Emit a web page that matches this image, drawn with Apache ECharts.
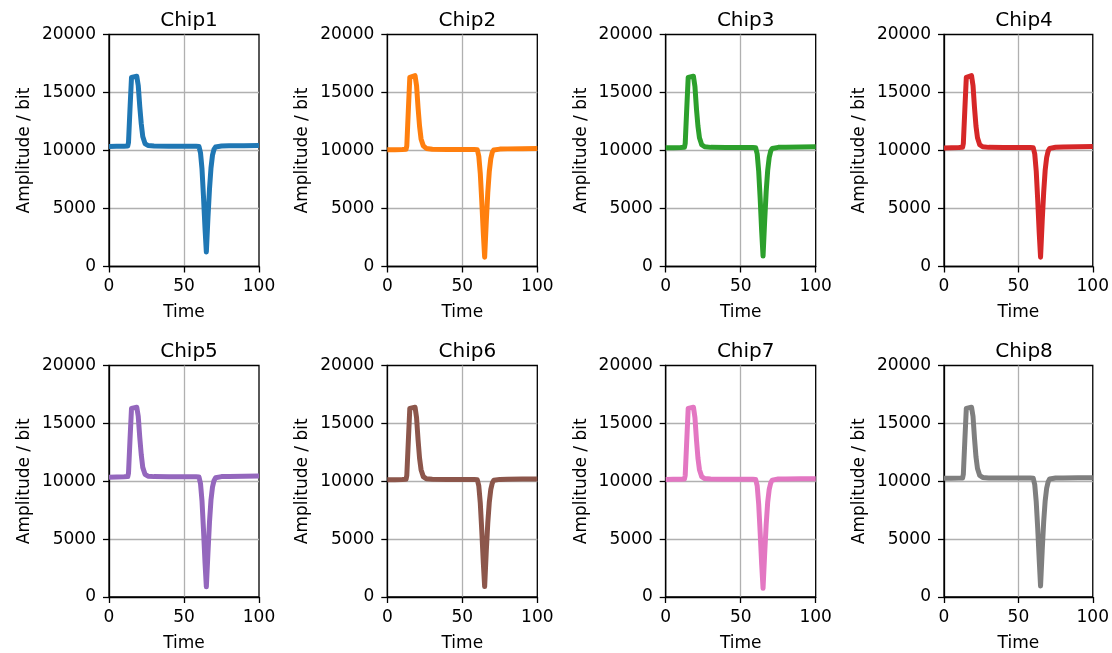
<!DOCTYPE html>
<html>
<head>
<meta charset="utf-8">
<script src="https://cdn.jsdelivr.net/npm/echarts@6/dist/echarts.min.js"></script>
<style>
  html, body { margin: 0; padding: 0; background: #fff; }
  #main { width: 1112px; height: 653px; }
</style>
</head>
<body>
<div id="main"></div>
<script>
// sample times shared by all chips
var times = [0, 5, 10, 12.5, 13, 14, 15, 15.5, 18.5, 19.5, 20.5, 21.5, 22.5, 24, 26, 30, 40, 50, 58, 60,
    61, 62, 63, 64, 64.9, 66, 67, 68, 69, 70, 71, 72, 75, 80, 90, 100];

var chipNames = ["Chip1", "Chip2", "Chip3", "Chip4", "Chip5", "Chip6", "Chip7", "Chip8"];
var colors = ["#1f77b4", "#ff7f0e", "#2ca02c", "#d62728", "#9467bd", "#8c564b", "#e377c2", "#7f7f7f"];

var chip1 = [10350, 10360, 10370, 10390, 10700, 13600, 16300, 16400, 16400, 15600, 13800, 12300, 11200, 10600, 10430, 10390, 10370, 10370, 10370, 10340,
    9800, 8400, 6000, 3300, 1250, 4300, 6700, 8500, 9600, 10100, 10300, 10350, 10380, 10400, 10420, 10440];
var chip2 = [10060, 10070, 10080, 10100, 10400, 13400, 16300, 16450, 16450, 15600, 13700, 12100, 11000, 10400, 10180, 10100, 10090, 10090, 10090, 10060,
    9500, 8000, 5600, 2900, 800, 3900, 6400, 8200, 9300, 9850, 10050, 10100, 10120, 10140, 10160, 10170];
var chip3 = [10230, 10240, 10250, 10280, 10600, 13500, 16300, 16400, 16400, 15500, 13600, 12100, 11100, 10500, 10320, 10270, 10260, 10260, 10260, 10230,
    9700, 8200, 5800, 3000, 900, 4000, 6500, 8300, 9400, 9950, 10180, 10240, 10270, 10290, 10310, 10320];
var chip4 = [10220, 10230, 10250, 10270, 10600, 13500, 16300, 16450, 16450, 15600, 13700, 12100, 11100, 10500, 10320, 10270, 10260, 10260, 10260, 10240,
    9700, 8200, 5700, 2900, 800, 3900, 6400, 8300, 9400, 9950, 10180, 10250, 10280, 10300, 10320, 10340];
var chip5 = [10350, 10360, 10380, 10400, 10700, 13600, 16300, 16400, 16400, 15600, 13800, 12300, 11200, 10600, 10440, 10400, 10390, 10390, 10390, 10360,
    9800, 8300, 5800, 3000, 880, 3900, 6500, 8400, 9500, 10050, 10300, 10370, 10400, 10420, 10440, 10460];
var chip6 = [10130, 10140, 10150, 10170, 10500, 13400, 16300, 16400, 16400, 15500, 13600, 12000, 11000, 10400, 10210, 10170, 10160, 10160, 10160, 10130,
    9600, 8100, 5700, 3000, 900, 4000, 6400, 8200, 9300, 9850, 10080, 10140, 10160, 10180, 10190, 10200];
var chip7 = [10160, 10170, 10180, 10200, 10500, 13400, 16300, 16400, 16400, 15500, 13600, 12000, 11000, 10400, 10230, 10190, 10180, 10180, 10180, 10150,
    9600, 8000, 5500, 2800, 750, 3800, 6300, 8200, 9300, 9850, 10100, 10170, 10190, 10200, 10210, 10220];
var chip8 = [10250, 10260, 10270, 10290, 10600, 13500, 16300, 16400, 16400, 15600, 13700, 12100, 11100, 10500, 10330, 10290, 10280, 10280, 10280, 10250,
    9700, 8200, 5900, 3200, 950, 4000, 6500, 8300, 9400, 9950, 10200, 10260, 10280, 10290, 10300, 10300];
var chipValues = [chip1, chip2, chip3, chip4, chip5, chip6, chip7, chip8];

var font = "DejaVu Sans";
var lefts = [109, 387.3, 665.7, 944];
var tops = [34.5, 365.5];
var plotW = 150, plotH = 232;

var grids = [], xAxes = [], yAxes = [], titles = [], series = [];

for (var i = 0; i < 8; i++) {
    var col = i % 4, row = Math.floor(i / 4);
    grids.push({
        left: lefts[col], top: tops[row], width: plotW, height: plotH,
        show: true, borderColor: "#000", borderWidth: 1.3, backgroundColor: "transparent"
    });
    titles.push({
        text: chipNames[i],
        left: lefts[col] + plotW / 2,
        top: tops[row] - 29,
        textAlign: "center",
        textStyle: { fontFamily: font, fontSize: 20, fontWeight: "normal", color: "#000" }
    });
    xAxes.push({
        gridIndex: i, type: "value", min: 0, max: 100, interval: 50,
        name: "Time", nameLocation: "middle", nameGap: 38,
        nameTextStyle: { fontFamily: font, fontSize: 17, color: "#000" },
        axisLine: { show: true, onZero: false, lineStyle: { color: "#000", width: 1.3 } },
        axisTick: { show: true, inside: false, length: 6, lineStyle: { color: "#000", width: 1.3 } },
        axisLabel: { fontFamily: font, fontSize: 17, color: "#000", margin: 12,
            showMinLabel: true, showMaxLabel: true },
        splitLine: { show: true, showMinLine: false, showMaxLine: false,
            lineStyle: { color: "#b0b0b0", width: 1.3 } }
    });
    yAxes.push({
        gridIndex: i, type: "value", min: 0, max: 20000, interval: 5000,
        name: "Amplitude / bit", nameLocation: "middle", nameGap: 76, nameRotate: 90,
        nameTextStyle: { fontFamily: font, fontSize: 17, color: "#000" },
        axisLine: { show: true, lineStyle: { color: "#000", width: 1.3 } },
        axisTick: { show: true, inside: false, length: 6, lineStyle: { color: "#000", width: 1.3 } },
        axisLabel: { fontFamily: font, fontSize: 17, color: "#000", margin: 13,
            showMinLabel: true, showMaxLabel: true,
            formatter: function (v) { return String(v); } },
        splitLine: { show: true, showMinLine: false, showMaxLine: false,
            lineStyle: { color: "#b0b0b0", width: 1.3 } }
    });
    var vals = chipValues[i];
    series.push({
        name: chipNames[i], type: "line", xAxisIndex: i, yAxisIndex: i,
        showSymbol: false, symbol: "none", animation: false,
        lineStyle: { color: colors[i], width: 5, join: "round" },
        itemStyle: { color: colors[i] },
        data: times.map(function (t, k) { return [t, vals[k]]; })
    });
}

var chart = echarts.init(document.getElementById("main"));
chart.setOption({
    backgroundColor: "#fff",
    animation: false,
    title: titles,
    grid: grids,
    xAxis: xAxes,
    yAxis: yAxes,
    series: series
});
</script>
</body>
</html>
